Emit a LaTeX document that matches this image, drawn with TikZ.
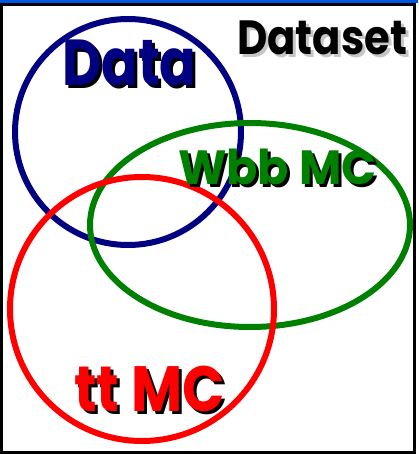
\documentclass[tikz,border=0pt]{standalone}
\usepackage{fontspec}
\newfontfamily\vennfont{Poppins}
\usepackage{tikz}

\definecolor{datablue}{RGB}{0,0,128}
\definecolor{mcgreen}{RGB}{0,128,0}
\definecolor{mcred}{RGB}{255,0,0}
\definecolor{barblue}{RGB}{0,84,227}

\tikzset{
  venn/.style={line width=6},
  lbl/.style={inner sep=0pt, anchor=base west, font=\vennfont\bfseries}
}

% label with a drop shadow: name, position, size, width scale, colour, shadow colour, text
\newcommand{\vennlabel}[7]{%
  \node[lbl,#6] at ([shift={(3,3)}]#2) {\fontsize{#3}{#3}\selectfont\scalebox{#4}[1]{#7}};
  \node[lbl,#5] (#1) at (#2) {\fontsize{#3}{#3}\selectfont\scalebox{#4}[1]{#7}};
}

\begin{document}
\begin{tikzpicture}[x=1pt,y=-1pt]
                \useasboundingbox (0,0) rectangle (418,454);
                %frame
                \fill[barblue] (0,0) rectangle (418,3);
                \draw[line width=3] (1.5,4.5) -- (414,4.5) -- (414,452) -- (1.5,452) -- cycle;
                %sets
                \draw[venn,datablue] (128,132) circle (113);
                \draw[venn,mcgreen] (250,225) ellipse (160 and 102);
                \draw[venn,mcred] (142,309) circle (132);
                %labels
                \vennlabel{dataset}{237,55}{48}{0.87}{black}{gray!45}{Dataset}
                \vennlabel{data}{62,86}{65}{0.83}{datablue}{black}{Data}
                \vennlabel{wbb}{178,185}{48}{0.96}{mcgreen}{black}{Wbb MC}
                \vennlabel{tt}{74,411}{64}{0.87}{mcred}{black}{tt MC}
\end{tikzpicture}
\end{document}
